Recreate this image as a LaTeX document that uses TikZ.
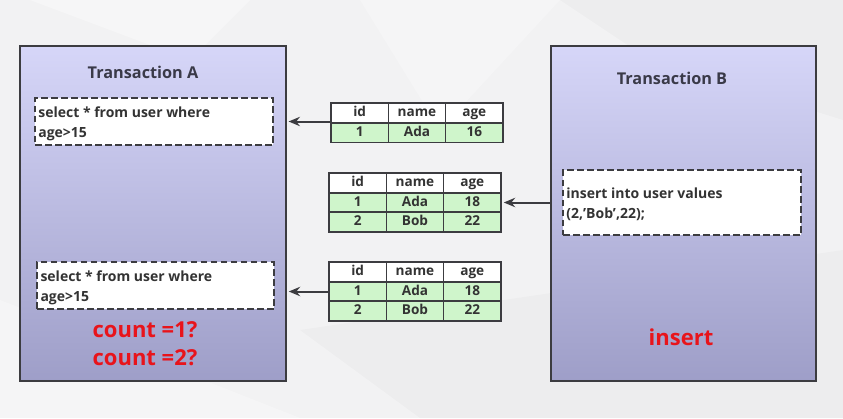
\documentclass[tikz,border=0pt]{standalone}
\usepackage{fontspec}
\setmainfont{Open Sans}
\usetikzlibrary{arrows.meta}
\definecolor{bgcol}{HTML}{F2F2F3}
\definecolor{edge}{HTML}{3C3C40}
\definecolor{boxtop}{HTML}{D6D6F8}
\definecolor{boxbot}{HTML}{9E9EC8}
\definecolor{rowgreen}{HTML}{CFF5CB}
\definecolor{titlecol}{HTML}{3A3A48}
\definecolor{txtcol}{HTML}{333333}
\definecolor{alert}{HTML}{E8141B}
\newcommand{\sqltext}[3]{\parbox{#1}{\fontsize{10.5}{13}\selectfont\vspace{3pt}#2\\[2.2pt]#3}}
\tikzset{
  txbox/.style={draw=edge, line width=1.6pt, top color=boxtop, bottom color=boxbot},
  sqlbox/.style={draw=edge, line width=1.4pt, dash pattern=on 5pt off 2.5pt, fill=white,
    inner sep=0pt, minimum width=#1},
  title/.style={font=\bfseries\fontsize{12.2}{14}\selectfont, text=titlecol},
  sql/.style={font=\bfseries, text=txtcol},
  hcell/.style={draw=edge, line width=1.2pt, fill=white, minimum width=43pt,
    minimum height=14.7pt, inner sep=0pt, text height=7.4pt, text depth=1.6pt,
    font=\bfseries\fontsize{10.2}{11}\selectfont, text=txtcol},
  dcell/.style={hcell, fill=rowgreen},
  arr/.style={draw=edge, line width=1.5pt, -{Stealth[length=8.5pt,width=7pt]}},
  red/.style={font=\bfseries\fontsize{16.5}{19}\selectfont, text=alert}
}
\begin{document}
\begin{tikzpicture}[x=0.75pt, y=-0.75pt]
  % backdrop with soft facets
  \fill[bgcol] (0,0) rectangle (843,418);
  \useasboundingbox (0,0) rectangle (843,418);
  \fill[white, opacity=0.35] (30,0) -- (250,0) -- (190,60) -- cycle;
  \fill[white, opacity=0.25] (360,0) -- (560,0) -- (440,130) -- cycle;
  \fill[black, opacity=0.02] (560,0) -- (843,0) -- (843,120) -- (650,60) -- cycle;
  \fill[white, opacity=0.3] (0,300) -- (300,418) -- (0,418) -- cycle;
  \fill[black, opacity=0.02] (300,330) -- (843,250) -- (843,418) -- (420,418) -- cycle;

  % transaction frames
  \draw[txbox] (20,46) rectangle (286,381);
  \node[title] (ta) at (143,72) {Transaction A};
  \draw[txbox] (551,46) rectangle (816,381);
  \coordinate (tbw) at (551,213);
  \node[title] (tb) at (672,78) {Transaction B};

  % queries of transaction A
  \node[sqlbox=178.5pt, minimum height=35pt, sql] (q1) at (154,121.5)
    {\sqltext{173.5pt}{select * from user where}{age>15}};
  \node[sqlbox=177.5pt, minimum height=35pt, sql] (q2) at (155.5,285.5)
    {\sqltext{172.5pt}{select * from user where}{age>15}};
  \node[red] (c1) at (145,330) {count =1?};
  \node[red] (c2) at (145,358) {count =2?};

  % statement of transaction B
  \node[sqlbox=178.5pt, minimum height=48.5pt, sql] (ins) at (682,202.5)
    {\sqltext{173.5pt}{insert into user values}{(2,'Bob',22);}};
  \node[red] (insw) at (681,337) {insert};

  % table seen by the first read
  \node[hcell] (t1h1) at (359.7,113) {id};
  \node[hcell] (t1h2) at (417,113) {name};
  \node[hcell] (t1h3) at (474.3,113) {age};
  \node[dcell] (t1a1) at (359.7,132.5) {1};
  \node[dcell] (t1a2) at (417,132.5) {Ada};
  \node[dcell] (t1a3) at (474.3,132.5) {16};

  % table after the insert
  \node[hcell] (t2h1) at (357.7,183) {id};
  \node[hcell] (t2h2) at (415,183) {name};
  \node[hcell] (t2h3) at (472.3,183) {age};
  \node[dcell] (t2a1) at (357.7,202.5) {1};
  \node[dcell] (t2a2) at (415,202.5) {Ada};
  \node[dcell] (t2a3) at (472.3,202.5) {18};
  \node[dcell] (t2b1) at (357.7,222) {2};
  \node[dcell] (t2b2) at (415,222) {Bob};
  \node[dcell] (t2b3) at (472.3,222) {22};

  % table seen by the second read
  \node[hcell] (t3h1) at (357.7,272) {id};
  \node[hcell] (t3h2) at (415,272) {name};
  \node[hcell] (t3h3) at (472.3,272) {age};
  \node[dcell] (t3a1) at (357.7,291.5) {1};
  \node[dcell] (t3a2) at (415,291.5) {Ada};
  \node[dcell] (t3a3) at (472.3,291.5) {18};
  \node[dcell] (t3b1) at (357.7,311) {2};
  \node[dcell] (t3b2) at (415,311) {Bob};
  \node[dcell] (t3b3) at (472.3,311) {22};

  % data flow
  \draw[arr] (t1h1.west |- q1.east) -- ([xshift=11pt]q1.east);
  \draw[arr] (tbw |- t2a3.east) -- ([xshift=1.5pt]t2a3.east);
  \draw[arr] (t3a1.west) -- ([xshift=10.5pt]q2.east |- t3a1.west);
\end{tikzpicture}
\end{document}
